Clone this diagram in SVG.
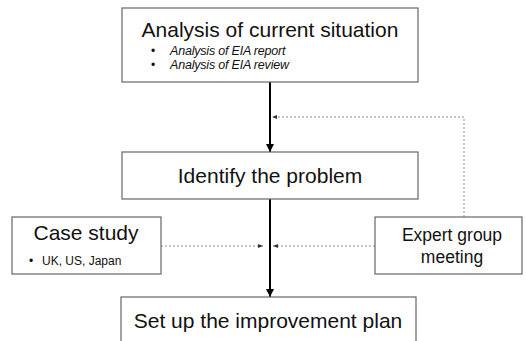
<svg xmlns="http://www.w3.org/2000/svg" width="526" height="341" viewBox="0 0 526 341">
<defs>
<marker id="ah" viewBox="0 0 10 10" refX="10" refY="5" markerWidth="4" markerHeight="4" orient="auto" markerUnits="strokeWidth"><path d="M0,0 L10,5 L0,10 z" fill="#000"/></marker>
<marker id="ahd" viewBox="0 0 10 10" refX="10" refY="5" markerWidth="5" markerHeight="5" orient="auto" markerUnits="userSpaceOnUse"><path d="M0,1 L10,5 L0,9 z" fill="#333"/></marker>
</defs>
<style>
.box{fill:#fff;stroke:#666;stroke-width:1.2}
.t{font-family:"Liberation Sans",Arial,sans-serif;fill:#111}
.big{font-size:21px}
.mid{font-size:17.5px}
.sm{font-size:12px}
.it{font-size:12.5px;font-style:italic;letter-spacing:-0.2px}
.main{stroke:#000;stroke-width:2;fill:none}
.dot{stroke:#888;stroke-width:1;stroke-dasharray:2,2;fill:none}
</style>
<rect width="526" height="341" fill="#fff"/>
<g id="connectors">
<line class="main" x1="270" y1="82" x2="270" y2="152" marker-end="url(#ah)"/>
<line class="main" x1="270" y1="199" x2="270" y2="297" marker-end="url(#ah)"/>
<polyline class="dot" points="464,217 464,117 272,117" marker-end="url(#ahd)"/>
<line class="dot" x1="161" y1="246" x2="263" y2="246" marker-end="url(#ahd)"/>
<line class="dot" x1="375" y1="246" x2="273" y2="246" marker-end="url(#ahd)"/>
</g>
<g id="analysis">
<rect class="box" x="122" y="8" width="296" height="74"/>
<text class="t big" x="270" y="37" text-anchor="middle">Analysis of current situation</text>
<text class="t sm" x="151" y="55">•</text>
<text class="t it" x="170" y="55">Analysis of EIA report</text>
<text class="t sm" x="151" y="69">•</text>
<text class="t it" x="170" y="69">Analysis of EIA review</text>
</g>
<g id="identify">
<rect class="box" x="122" y="152" width="296" height="47"/>
<text class="t big" x="270" y="183" text-anchor="middle">Identify the problem</text>
</g>
<g id="case">
<rect class="box" x="12" y="217" width="149" height="57"/>
<text class="t big" x="86" y="240" text-anchor="middle">Case study</text>
<text class="t sm" x="29" y="265">•</text>
<text class="t sm" x="42" y="265">UK, US, Japan</text>
</g>
<g id="expert">
<rect class="box" x="375" y="217" width="147" height="57"/>
<text class="t mid" x="452" y="241" text-anchor="middle">Expert group</text>
<text class="t mid" x="452" y="263" text-anchor="middle">meeting</text>
</g>
<g id="plan">
<rect class="box" x="121" y="297" width="295" height="60"/>
<text class="t big" x="268" y="328" text-anchor="middle">Set up the improvement plan</text>
</g>
</svg>
